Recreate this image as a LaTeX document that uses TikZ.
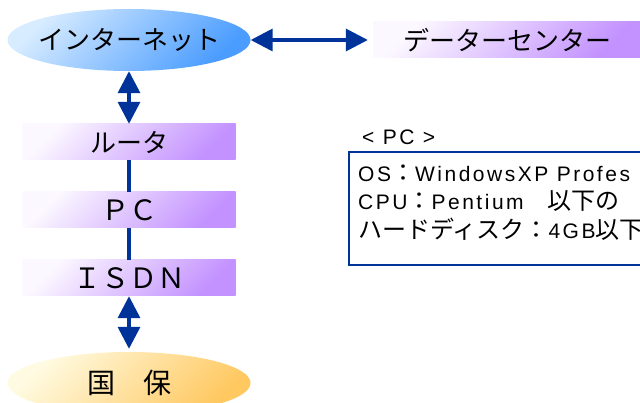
\documentclass[tikz,border=0pt]{standalone}
\usepackage{fontspec}
\setmainfont{Liberation Sans}[LetterSpace=12]
\newfontfamily\jp{Noto Sans CJK JP}
\usetikzlibrary{arrows.meta,shapes.geometric}
\definecolor{linkblue}{HTML}{003399}
\definecolor{netlight}{HTML}{D8ECFF}
\definecolor{netdark}{HTML}{4A9CFF}
\definecolor{barlight}{HTML}{FCF8FF}
\definecolor{bardark}{HTML}{C392FF}
\definecolor{koklight}{HTML}{FFFBE2}
\definecolor{kokdark}{HTML}{FFC860}
\newcommand{\jb}[1]{{\jp\fontsize{24}{27}\selectfont #1}}

\begin{document}
\begin{tikzpicture}[x=1pt, y=-1pt, every node/.style={inner sep=0pt},
		kana/.style={font=\jp\fontsize{26}{30}\selectfont},
		fw/.style={font=\jp\fontsize{28}{30}\selectfont},
		cloud/.style={ellipse, inner xsep=-15pt, minimum width=243pt, minimum height=62pt},
		netcloud/.style={cloud, top color=netlight, bottom color=netdark, shading angle=45},
		kokcloud/.style={cloud, top color=koklight, bottom color=kokdark, shading angle=45},
		bar/.style={rectangle, minimum width=213pt, minimum height=36pt, top color=barlight, bottom color=bardark, shading angle=45},
		link/.style={draw=linkblue, line width=3.5pt},
		dbl/.style={link, {Triangle[width=22pt,length=22pt]}-{Triangle[width=22pt,length=22pt]}},
		spec/.style={anchor=base west, font=\fontsize{21}{27}\selectfont}]
	\useasboundingbox (0,0) rectangle (640,403);
	\clip (0,0) rectangle (640,403);

	\node[netcloud, kana] (net) at (129,40) {インターネット};
	\node[bar, kana, minimum width=268pt] (dc) at (507,40) {データーセンター};
	\node[bar, kana] (router) at (129,142) {ルータ};
	\node[bar, fw] (pc) at (129,210) {ＰＣ};
	\node[bar, fw] (isdn) at (129,278) {ＩＳＤＮ};
	\node[kokcloud, fw] (kokuho) at (129,383) {国　保};

	\draw[dbl, shorten >=5pt] (net) -- (dc);
	\draw[dbl] (net) -- (router);
	\draw[link] (router) -- (pc);
	\draw[link] (pc) -- (isdn);
	\draw[dbl, shorten >=3pt] (isdn) -- (kokuho);

	% PC spec
	\node[spec] (pctitle) at (362,145) {< PC >};
	\node[draw=linkblue, line width=2pt, anchor=north west, minimum width=320pt, minimum height=113pt] (specbox) at (348,151) {};
	\node[spec] (osline) at (358,182) {OS\jb{：}WindowsXP Profes};
	\node[spec] (cpuline) at (358,210) {CPU\jb{：}Pentium\jb{　以下の}};
	\node[spec] (hddline) at (358,239) {\jb{ハードディスク：}4GB\jb{以下}};
\end{tikzpicture}
\end{document}
